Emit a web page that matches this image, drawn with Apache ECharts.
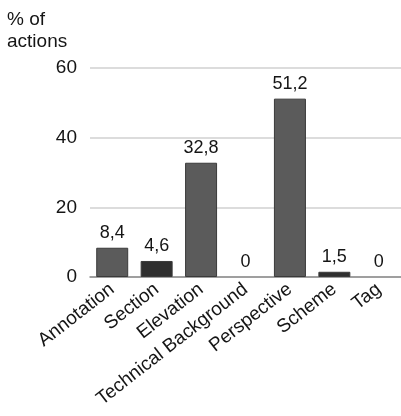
<!DOCTYPE html>
<html><head><meta charset="utf-8">
<script src="https://cdn.jsdelivr.net/npm/echarts@6/dist/echarts.min.js"></script>
<style>html,body{margin:0;padding:0;background:#fff}#c{width:401px;height:416px}</style>
</head><body><div id="c"></div>
<script>
var categories = ['Annotation','Section','Elevation','Technical Background','Perspective','Scheme','Tag'];
var values = [8.4, 4.6, 32.8, 0, 51.2, 1.5, 0];
var barColors = ['#5b5b5b','#2f2f2f','#5b5b5b','#5b5b5b','#5b5b5b','#2f2f2f','#5b5b5b'];
var yTicks = [0, 20, 40, 60];
var yTitle = '% of\nactions';

var chart = echarts.init(document.getElementById('c'), null, {renderer:'canvas'});
var FONT = 'Liberation Sans, Arial, sans-serif';
chart.setOption({
  animation: false,
  backgroundColor: '#fff',
  graphic: [{type:'text', left: 7, top: 9, style:{text: yTitle, font: '19px ' + FONT, fill:'#151515', lineHeight: 22}}],
  grid: {left: 90, top: 68, width: 315, height: 209, containLabel: false},
  xAxis: {
    type: 'category', data: categories,
    axisLine: {show: true, lineStyle: {color: '#8a8a8a', width: 1.5}},
    axisTick: {show: false},
    axisLabel: {rotate: 38, interval: 0, margin: 10, fontFamily: FONT, fontSize: 19, color: '#151515'}
  },
  yAxis: {
    type: 'value', min: yTicks[0], max: yTicks[yTicks.length-1], interval: 20,
    axisLine: {show: false}, axisTick: {show: false},
    splitLine: {lineStyle: {color: '#d0d0d0', width: 1.5}},
    axisLabel: {margin: 13, fontFamily: FONT, fontSize: 19, color: '#151515'}
  },
  series: [{
    type: 'bar', barWidth: '72%',
    data: values.map(function(v,i){return {value: v, itemStyle:{color: barColors[i], borderColor:'#3a3a3a', borderWidth: v > 0 ? 1 : 0}};}),
    label: {show: true, position: 'top', distance: 6, fontFamily: FONT, fontSize: 18, color: '#151515',
      formatter: function(p){ return String(p.value).replace('.', ','); }}
  }]
});
</script></body></html>
